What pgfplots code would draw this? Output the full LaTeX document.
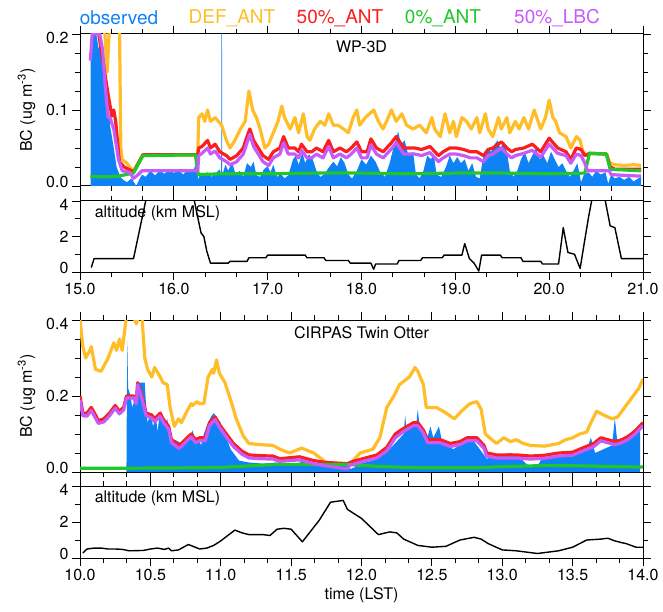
\documentclass[border=0pt]{standalone}
\usepackage{pgfplots}
\pgfplotsset{compat=1.18}
\usepackage{fontspec}
\setmainfont{TeX Gyre Heros}
\definecolor{obs}{RGB}{15,130,245}
\definecolor{defant}{RGB}{255,190,40}
\definecolor{ant50}{RGB}{250,30,30}
\definecolor{ant0}{RGB}{30,200,40}
\definecolor{lbc50}{RGB}{200,90,250}
% end tick labels sit a little inside the frame, as in the original
\newcommand\up[1]{\raisebox{4pt}[\height][\depth]{#1}}
\newcommand\dn[1]{\raisebox{-4pt}[\height][\depth]{#1}}

\pgfplotsset{
  base/.style={
    scale only axis, width=563pt, anchor=south west,
    tick align=outside, major tick length=8pt, minor tick length=5pt,
    axis line style={line width=1pt},
    every tick/.style={black, line width=0.9pt},
    tick label style={font=\fontsize{16}{18}\selectfont},
    label style={font=\fontsize{16}{18}\selectfont},
    ylabel shift=4pt,
    /pgf/number format/assume math mode=true,
  },
  line/.style={line width=3.2pt, line join=round},
  alt/.style={black, line width=1.4pt, line join=round},
}

\begin{document}
\begin{tikzpicture}
\useasboundingbox (0,0) rectangle (663pt,611pt);

% legend
\begin{scope}[font=\fontsize{19}{22}\selectfont]
\node[obs]    at (119pt,593pt) {observed};
\node[defant] at (232pt,593pt) {DEF\_ANT};
\node[ant50]  at (340pt,593pt) {50\%\_ANT};
\node[ant0]   at (443pt,593pt) {0\%\_ANT};
\node[lbc50]  at (557pt,593pt) {50\%\_LBC};
\end{scope}

% ---------------- WP-3D BC
\begin{axis}[base, at={(80pt,425pt)}, height=152pt,
  xmin=15, xmax=21, ymin=0, ymax=0.2,
  xtick={15,...,21}, minor x tick num=2, xticklabels={},
  ytick={0,0.1,0.2}, minor y tick num=3,
  yticklabels={\up{0.0},0.1,\dn{0.2}},
  ylabel={BC (ug m\textsuperscript{-3})}]
\addplot[fill=obs, draw=none] coordinates {
(15.113,0) (15.114,0.17) (15.12,0.2) (15.16,0.21) (15.2,0.18) (15.22,0.19) (15.25,0.14) (15.28,0.11) (15.3,0.12) (15.32,0.08) (15.36,0.05) (15.39,0.025) (15.43,0.012) (15.46,0.008) (15.5,0.005) (15.55,0.01) (15.6,0.0) (15.63,0.008) (15.66,0.015) (15.7,0.012) (15.75,0.02) (15.8,0.014) (15.85,0.02) (15.9,0.016) (15.95,0.022) (16.0,0.017) (16.05,0.021) (16.1,0.015) (16.15,0.022) (16.2,0.018) (16.24,0.03) (16.26,0.008) (16.28,0.016) (16.32,0.013) (16.36,0.018) (16.4,0.012) (16.45,0.017) (16.49,0.022) (16.505,0.014) (16.507,0.21) (16.513,0.21) (16.515,0.014) (16.55,0.028) (16.58,0.02) (16.62,0.032) (16.66,0.014) (16.7,0.02) (16.74,0.012) (16.78,0.03) (16.82,0.025) (16.85,0.032) (16.88,0.014) (16.92,0.012) (16.96,0.022) (17.0,0.026) (17.03,0.018) (17.06,0.028) (17.1,0.012) (17.14,0.016) (17.18,0.01) (17.22,0.014) (17.27,0.035) (17.3,0.04) (17.33,0.028) (17.37,0.044) (17.4,0.03) (17.44,0.042) (17.48,0.035) (17.52,0.02) (17.56,0.012) (17.6,0.015) (17.65,0.024) (17.7,0.032) (17.74,0.026) (17.78,0.038) (17.82,0.03) (17.86,0.015) (17.9,0.01) (17.95,0.02) (18.0,0.035) (18.05,0.028) (18.1,0.04) (18.15,0.032) (18.2,0.018) (18.25,0.012) (18.3,0.03) (18.34,0.05) (18.37,0.062) (18.39,0.072) (18.42,0.055) (18.46,0.06) (18.5,0.04) (18.55,0.045) (18.58,0.015) (18.62,0.01) (18.66,0.02) (18.7,0.04) (18.74,0.035) (18.77,0.042) (18.8,0.015) (18.85,0.012) (18.9,0.025) (18.94,0.04) (18.98,0.03) (19.02,0.038) (19.06,0.03) (19.1,0.035) (19.14,0.02) (19.18,0.03) (19.22,0.012) (19.26,0.01) (19.3,0.04) (19.34,0.05) (19.38,0.045) (19.42,0.055) (19.45,0.06) (19.48,0.05) (19.52,0.058) (19.55,0.045) (19.58,0.02) (19.62,0.012) (19.66,0.02) (19.7,0.035) (19.74,0.045) (19.78,0.03) (19.82,0.04) (19.86,0.05) (19.9,0.035) (19.94,0.04) (19.98,0.03) (20.02,0.045) (20.06,0.035) (20.1,0.025) (20.14,0.03) (20.18,0.02) (20.22,0.012) (20.26,0.02) (20.3,0.03) (20.34,0.005) (20.37,0.015) (20.42,0.018) (20.46,0.012) (20.5,0.02) (20.55,0.015) (20.6,0.018) (20.63,0.003) (20.66,0.015) (20.7,0.01) (20.75,0.012) (20.8,0.008) (20.85,0.012) (20.9,0.006) (20.95,0.01) (20.98,0.012) (20.98,0)
} \closedcycle;
\addplot[line, defant] coordinates {
(15.12,0.22) (15.2,0.22) (15.26,0.21) (15.29,0.15) (15.31,0.2) (15.33,0.22) (15.42,0.22) (15.435,0.05) (15.45,0.035) (15.5,0.03) (15.55,0.022) (15.57,0.02) (15.67,0.041) (16.255,0.041) (16.265,0.09) (16.3,0.095) (16.33,0.085) (16.36,0.1) (16.39,0.085) (16.44,0.09) (16.51,0.08) (16.56,0.06) (16.6,0.05) (16.65,0.06) (16.71,0.075) (16.76,0.085) (16.8,0.125) (16.84,0.1) (16.88,0.09) (16.92,0.075) (16.97,0.05) (17.01,0.055) (17.06,0.07) (17.11,0.085) (17.15,0.105) (17.18,0.09) (17.24,0.075) (17.29,0.09) (17.33,0.07) (17.38,0.095) (17.42,0.065) (17.45,0.06) (17.5,0.075) (17.56,0.085) (17.61,0.08) (17.65,0.095) (17.7,0.08) (17.75,0.08) (17.81,0.075) (17.86,0.07) (17.91,0.09) (17.95,0.1) (17.98,0.08) (18.04,0.09) (18.13,0.1) (18.18,0.085) (18.23,0.075) (18.32,0.1) (18.37,0.085) (18.43,0.095) (18.48,0.08) (18.55,0.075) (18.62,0.08) (18.69,0.07) (18.75,0.09) (18.78,0.075) (18.84,0.065) (18.89,0.095) (18.94,0.07) (18.98,0.085) (19.01,0.065) (19.07,0.09) (19.12,0.085) (19.17,0.075) (19.23,0.09) (19.26,0.07) (19.32,0.095) (19.35,0.075) (19.4,0.065) (19.46,0.09) (19.49,0.075) (19.55,0.09) (19.58,0.07) (19.64,0.085) (19.68,0.075) (19.73,0.09) (19.78,0.075) (19.84,0.1) (19.91,0.075) (19.96,0.09) (20.0,0.113) (20.04,0.09) (20.07,0.085) (20.11,0.07) (20.18,0.065) (20.23,0.05) (20.29,0.065) (20.33,0.06) (20.36,0.045) (20.4,0.04) (20.43,0.043) (20.61,0.042) (20.65,0.03) (20.7,0.028) (20.8,0.027) (20.9,0.028) (20.98,0.027)
};
\addplot[line, ant50] coordinates {
(15.12,0.2) (15.15,0.21) (15.2,0.2) (15.25,0.16) (15.3,0.12) (15.34,0.092) (15.36,0.1) (15.38,0.085) (15.42,0.032) (15.47,0.025) (15.55,0.02) (15.57,0.018) (15.67,0.041) (16.255,0.041) (16.265,0.05) (16.3,0.052) (16.36,0.06) (16.39,0.05) (16.44,0.055) (16.49,0.045) (16.56,0.04) (16.6,0.035) (16.67,0.04) (16.74,0.05) (16.78,0.065) (16.81,0.075) (16.85,0.06) (16.9,0.05) (16.95,0.04) (17.01,0.035) (17.06,0.045) (17.13,0.05) (17.17,0.065) (17.22,0.05) (17.29,0.05) (17.33,0.045) (17.36,0.055) (17.42,0.045) (17.47,0.045) (17.52,0.05) (17.59,0.045) (17.65,0.06) (17.7,0.045) (17.77,0.05) (17.84,0.045) (17.89,0.05) (17.95,0.058) (18.0,0.045) (18.06,0.045) (18.1,0.062) (18.16,0.05) (18.23,0.045) (18.32,0.057) (18.37,0.065) (18.45,0.05) (18.52,0.05) (18.57,0.05) (18.64,0.048) (18.73,0.052) (18.82,0.04) (18.87,0.045) (18.94,0.05) (19.01,0.05) (19.09,0.048) (19.16,0.045) (19.23,0.045) (19.3,0.04) (19.35,0.048) (19.4,0.05) (19.49,0.058) (19.55,0.05) (19.6,0.045) (19.64,0.048) (19.73,0.05) (19.82,0.055) (19.91,0.045) (20.0,0.063) (20.09,0.05) (20.18,0.045) (20.23,0.035) (20.29,0.05) (20.34,0.048) (20.38,0.04) (20.43,0.043) (20.61,0.042) (20.65,0.025) (20.7,0.022) (20.98,0.022)
};
\addplot[line, ant0] coordinates {
(15.11,0.013) (15.25,0.012) (15.41,0.013) (15.53,0.016) (15.57,0.017) (15.67,0.04) (16.23,0.041) (16.26,0.015) (16.5,0.016) (17.0,0.016) (17.5,0.017) (18.0,0.017) (18.5,0.016) (19.0,0.017) (19.5,0.017) (20.0,0.016) (20.38,0.017) (20.43,0.043) (20.61,0.042) (20.65,0.022) (20.98,0.02)
};
\addplot[line, lbc50] coordinates {
(15.11,0.165) (15.13,0.2) (15.21,0.2) (15.24,0.18) (15.27,0.13) (15.3,0.09) (15.32,0.09) (15.36,0.075) (15.41,0.035) (15.45,0.02) (15.53,0.018) (15.57,0.01) (15.62,0.015) (15.66,0.02) (16.255,0.02) (16.265,0.04) (16.3,0.043) (16.36,0.05) (16.39,0.042) (16.44,0.046) (16.49,0.037) (16.56,0.032) (16.6,0.028) (16.67,0.032) (16.74,0.042) (16.78,0.057) (16.81,0.068) (16.85,0.052) (16.9,0.042) (16.95,0.032) (17.01,0.027) (17.06,0.037) (17.13,0.042) (17.17,0.057) (17.22,0.042) (17.29,0.042) (17.33,0.037) (17.36,0.047) (17.42,0.037) (17.47,0.037) (17.52,0.042) (17.59,0.037) (17.65,0.052) (17.7,0.037) (17.77,0.042) (17.84,0.037) (17.89,0.042) (17.95,0.05) (18.0,0.037) (18.06,0.037) (18.1,0.054) (18.16,0.042) (18.23,0.037) (18.32,0.049) (18.37,0.057) (18.45,0.042) (18.52,0.042) (18.57,0.042) (18.64,0.04) (18.73,0.044) (18.82,0.032) (18.87,0.037) (18.94,0.042) (19.01,0.042) (19.09,0.04) (19.16,0.037) (19.23,0.037) (19.3,0.032) (19.35,0.04) (19.4,0.042) (19.49,0.05) (19.55,0.042) (19.6,0.037) (19.64,0.04) (19.73,0.043) (19.82,0.047) (19.91,0.038) (20.0,0.055) (20.09,0.043) (20.18,0.04) (20.23,0.03) (20.29,0.042) (20.34,0.04) (20.38,0.03) (20.41,0.02) (20.64,0.02) (20.66,0.015) (20.8,0.014) (20.98,0.013)
};
\node[font=\fontsize{16}{18}\selectfont] at (rel axis cs:0.5,0.915) {WP-3D};
\end{axis}

% ---------------- WP-3D altitude
\begin{axis}[base, at={(80pt,339pt)}, height=71pt,
  xmin=15, xmax=21, ymin=0, ymax=4,
  xtick={15,...,21}, minor x tick num=2,
  xticklabel style={/pgf/number format/.cd, fixed, fixed zerofill, precision=1},
  ytick={0,2,4}, minor y tick num=1,
  yticklabels={\up{0},2,\dn{4}}]
\addplot[alt] coordinates {
(15.12,0.25) (15.15,0.75) (15.57,0.75) (15.62,2.0) (15.66,3.0) (15.72,4.5) (16.2,4.5) (16.25,3.2) (16.29,2.2) (16.32,2.0) (16.35,1.2) (16.39,0.5) (16.58,0.5) (16.6,0.6) (16.78,0.6) (16.8,0.8) (16.98,0.8) (17.0,0.95) (17.4,0.95) (17.42,0.8) (17.6,0.8) (17.62,0.65) (17.86,0.65) (17.88,0.5) (18.1,0.5) (18.13,0.15) (18.15,0.45) (18.38,0.45) (18.4,0.65) (18.63,0.65) (18.65,0.8) (18.86,0.8) (18.88,0.95) (19.07,0.95) (19.1,1.6) (19.15,0.75) (19.2,0.5) (19.25,0.05) (19.28,0.95) (19.48,0.95) (19.5,0.8) (19.7,0.8) (19.72,0.6) (19.91,0.6) (19.93,0.45) (20.1,0.45) (20.15,2.5) (20.2,1.1) (20.27,1.0) (20.3,0.6) (20.33,0.2) (20.37,1.5) (20.42,3.1) (20.47,4.5) (20.58,4.5) (20.65,2.6) (20.7,2.5) (20.77,0.75) (21.0,0.75)
};
\node[anchor=west, font=\fontsize{16}{18}\selectfont] at (rel axis cs:0.02,0.83) {altitude (km MSL)};
\end{axis}

% ---------------- Twin Otter BC
\begin{axis}[base, at={(80pt,139pt)}, height=152pt,
  xmin=10, xmax=14, ymin=0, ymax=0.4,
  xtick={10,10.5,...,14}, minor x tick num=2, xticklabels={},
  ytick={0,0.2,0.4}, minor y tick num=3,
  yticklabels={\up{0.0},0.2,\dn{0.4}},
  ylabel={BC (ug m\textsuperscript{-3})}]
\addplot[fill=obs, draw=none] coordinates {
(10.33,0) (10.333,0.2) (10.336,0.345) (10.342,0.22) (10.36,0.2) (10.37,0.17) (10.38,0.18) (10.39,0.2) (10.40,0.18) (10.41,0.235) (10.46,0.235) (10.47,0.17) (10.48,0.13) (10.5,0.15) (10.52,0.12) (10.54,0.15) (10.55,0.105) (10.57,0.16) (10.6,0.12) (10.62,0.14) (10.64,0.09) (10.67,0.085) (10.7,0.08) (10.73,0.07) (10.76,0.085) (10.79,0.095) (10.8,0.11) (10.82,0.08) (10.84,0.09) (10.86,0.07) (10.88,0.1) (10.9,0.12) (10.93,0.145) (10.95,0.155) (10.98,0.14) (11.0,0.13) (11.02,0.1) (11.05,0.08) (11.07,0.06) (11.1,0.045) (11.13,0.03) (11.2,0.025) (11.3,0.022) (11.4,0.025) (11.5,0.02) (11.6,0.028) (11.7,0.022) (11.8,0.018) (11.9,0.015) (11.92,0.008) (11.95,0.012) (11.97,0.02) (12.08,0.03) (12.13,0.04) (12.2,0.06) (12.25,0.08) (12.3,0.1) (12.31,0.15) (12.32,0.11) (12.34,0.12) (12.39,0.13) (12.4,0.165) (12.41,0.13) (12.44,0.11) (12.46,0.08) (12.49,0.12) (12.51,0.09) (12.55,0.12) (12.57,0.085) (12.6,0.075) (12.65,0.06) (12.7,0.07) (12.75,0.085) (12.8,0.08) (12.84,0.06) (12.89,0.035) (12.94,0.04) (12.98,0.045) (13.06,0.05) (13.12,0.04) (13.16,0.025) (13.2,0.012) (13.25,0.015) (13.28,0.035) (13.35,0.04) (13.45,0.045) (13.55,0.05) (13.6,0.06) (13.63,0.09) (13.66,0.05) (13.72,0.06) (13.78,0.07) (13.8,0.142) (13.82,0.07) (13.86,0.08) (13.9,0.1) (13.95,0.11) (13.98,0.12) (13.98,0)
} \closedcycle;
\addplot[line, defant] coordinates {
(10.0,0.4) (10.02,0.33) (10.04,0.3) (10.07,0.32) (10.08,0.33) (10.11,0.27) (10.15,0.265) (10.2,0.3) (10.22,0.32) (10.24,0.34) (10.26,0.32) (10.28,0.35) (10.3,0.32) (10.31,0.35) (10.33,0.41) (10.38,0.41) (10.4,0.39) (10.42,0.41) (10.44,0.41) (10.46,0.3) (10.48,0.27) (10.51,0.25) (10.53,0.275) (10.57,0.25) (10.59,0.235) (10.62,0.23) (10.64,0.17) (10.67,0.12) (10.7,0.14) (10.72,0.13) (10.76,0.16) (10.79,0.18) (10.8,0.175) (10.83,0.185) (10.85,0.18) (10.88,0.18) (10.91,0.25) (10.94,0.27) (10.95,0.26) (10.97,0.295) (10.99,0.26) (11.03,0.235) (11.07,0.19) (11.11,0.14) (11.16,0.095) (11.2,0.075) (11.28,0.072) (11.37,0.07) (11.42,0.06) (11.49,0.05) (11.575,0.063) (11.66,0.05) (11.75,0.025) (11.835,0.022) (11.92,0.022) (11.99,0.05) (12.08,0.06) (12.13,0.09) (12.18,0.17) (12.23,0.2) (12.27,0.23) (12.34,0.25) (12.38,0.275) (12.40,0.265) (12.44,0.23) (12.46,0.17) (12.53,0.17) (12.58,0.16) (12.6,0.155) (12.66,0.14) (12.71,0.16) (12.77,0.18) (12.82,0.185) (12.85,0.165) (12.88,0.1) (12.91,0.09) (12.96,0.075) (13.01,0.09) (13.06,0.08) (13.1,0.085) (13.15,0.075) (13.2,0.07) (13.3,0.068) (13.4,0.075) (13.45,0.085) (13.5,0.09) (13.55,0.1) (13.6,0.105) (13.63,0.13) (13.67,0.16) (13.72,0.15) (13.78,0.14) (13.82,0.145) (13.87,0.17) (13.93,0.2) (13.97,0.22) (14.0,0.245)
};
\addplot[line, ant50] coordinates {
(10.0,0.2) (10.02,0.155) (10.05,0.155) (10.08,0.17) (10.11,0.15) (10.13,0.135) (10.17,0.14) (10.21,0.155) (10.25,0.175) (10.28,0.16) (10.31,0.17) (10.33,0.2) (10.38,0.2) (10.4,0.185) (10.41,0.235) (10.44,0.2) (10.47,0.155) (10.51,0.15) (10.53,0.14) (10.57,0.155) (10.59,0.14) (10.63,0.12) (10.65,0.085) (10.67,0.08) (10.7,0.07) (10.72,0.075) (10.76,0.09) (10.79,0.1) (10.82,0.085) (10.85,0.09) (10.89,0.09) (10.92,0.13) (10.96,0.145) (10.99,0.125) (11.04,0.1) (11.09,0.075) (11.15,0.055) (11.2,0.045) (11.28,0.043) (11.37,0.042) (11.42,0.035) (11.56,0.04) (11.66,0.03) (11.75,0.025) (11.9,0.022) (11.94,0.028) (12.01,0.035) (12.11,0.045) (12.18,0.065) (12.24,0.1) (12.3,0.115) (12.37,0.13) (12.4,0.13) (12.44,0.11) (12.47,0.085) (12.56,0.085) (12.63,0.075) (12.7,0.08) (12.75,0.09) (12.82,0.09) (12.87,0.07) (12.89,0.05) (12.96,0.045) (13.06,0.045) (13.1,0.045) (13.2,0.042) (13.3,0.044) (13.4,0.05) (13.5,0.052) (13.55,0.06) (13.65,0.075) (13.7,0.09) (13.75,0.085) (13.8,0.08) (13.85,0.085) (13.9,0.095) (13.95,0.11) (14.0,0.13)
};
\addplot[line, ant0] coordinates {
(10.0,0.01) (10.33,0.01) (10.8,0.011) (11.0,0.012) (11.2,0.016) (11.4,0.02) (11.9,0.02) (12.1,0.015) (12.4,0.011) (12.8,0.011) (13.0,0.014) (13.3,0.017) (13.6,0.016) (13.8,0.014) (14.0,0.013)
};
\addplot[line, lbc50] coordinates {
(10.0,0.19) (10.02,0.148) (10.05,0.147) (10.08,0.162) (10.11,0.142) (10.13,0.128) (10.17,0.132) (10.21,0.148) (10.25,0.168) (10.28,0.153) (10.31,0.163) (10.33,0.195) (10.38,0.195) (10.4,0.18) (10.41,0.23) (10.44,0.193) (10.47,0.148) (10.51,0.142) (10.53,0.132) (10.57,0.147) (10.59,0.132) (10.63,0.112) (10.65,0.077) (10.67,0.072) (10.7,0.062) (10.72,0.067) (10.76,0.082) (10.79,0.092) (10.82,0.077) (10.85,0.082) (10.89,0.082) (10.92,0.122) (10.96,0.138) (10.99,0.118) (11.04,0.092) (11.09,0.067) (11.15,0.047) (11.2,0.037) (11.28,0.035) (11.37,0.034) (11.42,0.028) (11.56,0.032) (11.66,0.022) (11.75,0.016) (11.86,0.01) (11.9,0.008) (11.92,0.02) (11.94,0.02) (12.01,0.028) (12.11,0.037) (12.18,0.056) (12.24,0.09) (12.3,0.107) (12.37,0.122) (12.4,0.122) (12.44,0.102) (12.47,0.077) (12.56,0.077) (12.63,0.067) (12.7,0.072) (12.75,0.082) (12.82,0.082) (12.87,0.062) (12.89,0.042) (12.96,0.037) (13.06,0.037) (13.1,0.037) (13.2,0.034) (13.3,0.036) (13.4,0.042) (13.5,0.044) (13.55,0.052) (13.65,0.067) (13.7,0.082) (13.75,0.077) (13.8,0.072) (13.85,0.077) (13.9,0.087) (13.95,0.102) (14.0,0.122)
};
\node[font=\fontsize{16}{18}\selectfont] at (rel axis cs:0.5,0.915) {CIRPAS Twin Otter};
\end{axis}

% ---------------- Twin Otter altitude
\begin{axis}[base, at={(80pt,53pt)}, height=72pt,
  xmin=10, xmax=14, ymin=0, ymax=4,
  xtick={10,10.5,...,14}, minor x tick num=2,
  xticklabel style={/pgf/number format/.cd, fixed, fixed zerofill, precision=1},
  ytick={0,2,4}, minor y tick num=1,
  yticklabels={\up{0},2,\dn{4}},
  xlabel={time (LST)}]
\addplot[alt] coordinates {
(10.02,0.28) (10.05,0.5) (10.1,0.55) (10.15,0.55) (10.2,0.5) (10.25,0.5) (10.3,0.48) (10.35,0.4) (10.45,0.42) (10.5,0.5) (10.55,0.55) (10.6,0.48) (10.63,0.55) (10.65,0.4) (10.7,0.45) (10.77,0.75) (10.85,0.5) (10.9,0.55) (10.95,0.7) (11.0,0.95) (11.05,1.25) (11.1,1.55) (11.15,1.4) (11.2,1.3) (11.3,1.3) (11.35,1.25) (11.4,1.6) (11.45,1.65) (11.5,1.6) (11.58,0.9) (11.62,1.3) (11.7,2.1) (11.78,3.1) (11.87,3.2) (11.9,2.7) (12.0,2.2) (12.12,1.3) (12.2,1.45) (12.25,1.4) (12.3,1.05) (12.4,0.7) (12.5,0.6) (12.6,0.65) (12.7,1.0) (12.8,1.15) (12.85,1.05) (12.9,0.8) (13.0,0.45) (13.1,0.4) (13.25,0.25) (13.4,0.4) (13.5,0.6) (13.6,1.0) (13.7,1.05) (13.75,1.1) (13.8,0.95) (13.85,0.85) (13.88,0.8) (13.95,0.6) (14.0,0.6)
};
\node[anchor=west, font=\fontsize{16}{18}\selectfont] at (rel axis cs:0.02,0.83) {altitude (km MSL)};
\end{axis}
\end{tikzpicture}
\end{document}
